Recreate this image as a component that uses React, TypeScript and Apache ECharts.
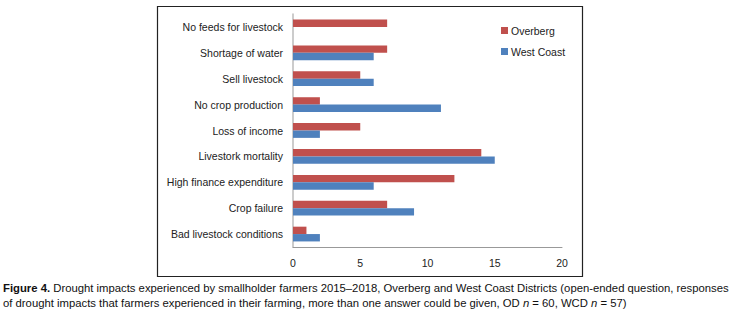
import React, { useEffect, useRef } from "react";
import * as echarts from "echarts";

const categories = [
  "Bad livestock conditions",
  "Crop failure",
  "High finance expenditure",
  "Livestork mortality",
  "Loss of income",
  "No crop production",
  "Sell livestock",
  "Shortage of water",
  "No feeds for livestock",
];
const overberg = [1, 7, 12, 14, 5, 2, 5, 7, 7];
const westCoast = [2, 9, 6, 15, 2, 11, 6, 6, 0];
const xTicks = { min: 0, max: 20, interval: 5 };

const FONT = "'Liberation Sans', Arial, sans-serif";
const CAP_FONT = "'Liberation Sans', Arial, sans-serif";
const CAP_SIZE = 11.3;

export default function App() {
  const ref = useRef<HTMLDivElement>(null);
  useEffect(() => {
    const chart = echarts.init(ref.current!, null, { renderer: "svg" });
    chart.setOption({
      animation: false,
      grid: { left: 293, right: 180, top: 14, bottom: 65, containLabel: false },
      legend: {
        data: ["Overberg", "West Coast"],
        orient: "vertical",
        left: 501,
        top: 25,
        padding: 0,
        itemWidth: 7,
        itemHeight: 7,
        itemGap: 10,
        icon: "rect",
        textStyle: { fontFamily: FONT, fontSize: 10.5, color: "#222", padding: [0, 0, 0, -2] },
      },
      xAxis: {
        type: "value",
        min: xTicks.min,
        max: xTicks.max,
        interval: xTicks.interval,
        splitLine: { show: false },
        axisLine: { show: true, lineStyle: { color: "#999", width: 1 } },
        axisTick: { show: false },
        axisLabel: { fontFamily: FONT, fontSize: 10.5, color: "#222", margin: 10 },
      },
      yAxis: {
        type: "category",
        data: categories,
        axisLine: { show: true, lineStyle: { color: "#bbb", width: 1.5 } },
        axisTick: { show: false },
        axisLabel: { fontFamily: FONT, fontSize: 10.5, color: "#222", margin: 10 },
      },
      series: [
        {
          name: "Overberg",
          type: "bar",
          data: overberg,
          itemStyle: { color: "#C0504D" },
          barGap: "0%",
          barCategoryGap: "43%",
        },
        {
          name: "West Coast",
          type: "bar",
          data: westCoast,
          itemStyle: { color: "#4F81BD" },
          barGap: "0%",
          barCategoryGap: "43%",
        },
      ],
      graphic: [
        {
          type: "rect",
          shape: { x: 157.5, y: 6.5, width: 425, height: 270 },
          style: { fill: "none", stroke: "#222", lineWidth: 1.2 },
          silent: true,
        },
        {
          type: "text",
          left: 3,
          top: 280,
          style: {
            text:
              "{b|Figure 4.} Drought impacts experienced by smallholder farmers 2015–2018, Overberg and West Coast Districts (open-ended question, responses\nof drought impacts that farmers experienced in their farming, more than one answer could be given, OD {i|n} = 60, WCD {i|n} = 57)",
            fontFamily: CAP_FONT,
            fontSize: CAP_SIZE,
            lineHeight: 15,
            fill: "#111",
            rich: {
              b: { fontFamily: CAP_FONT, fontSize: CAP_SIZE, fontWeight: "bold", fill: "#111", lineHeight: 15 },
              i: { fontFamily: CAP_FONT, fontSize: CAP_SIZE, fontStyle: "italic", fill: "#111", lineHeight: 15 },
            },
          },
        },
      ],
    });
    return () => chart.dispose();
  }, []);
  return (
    <div
      ref={ref}
      style={{ position: "absolute", left: 0, top: 0, width: 742, height: 312, background: "#fff" }}
    />
  );
}
